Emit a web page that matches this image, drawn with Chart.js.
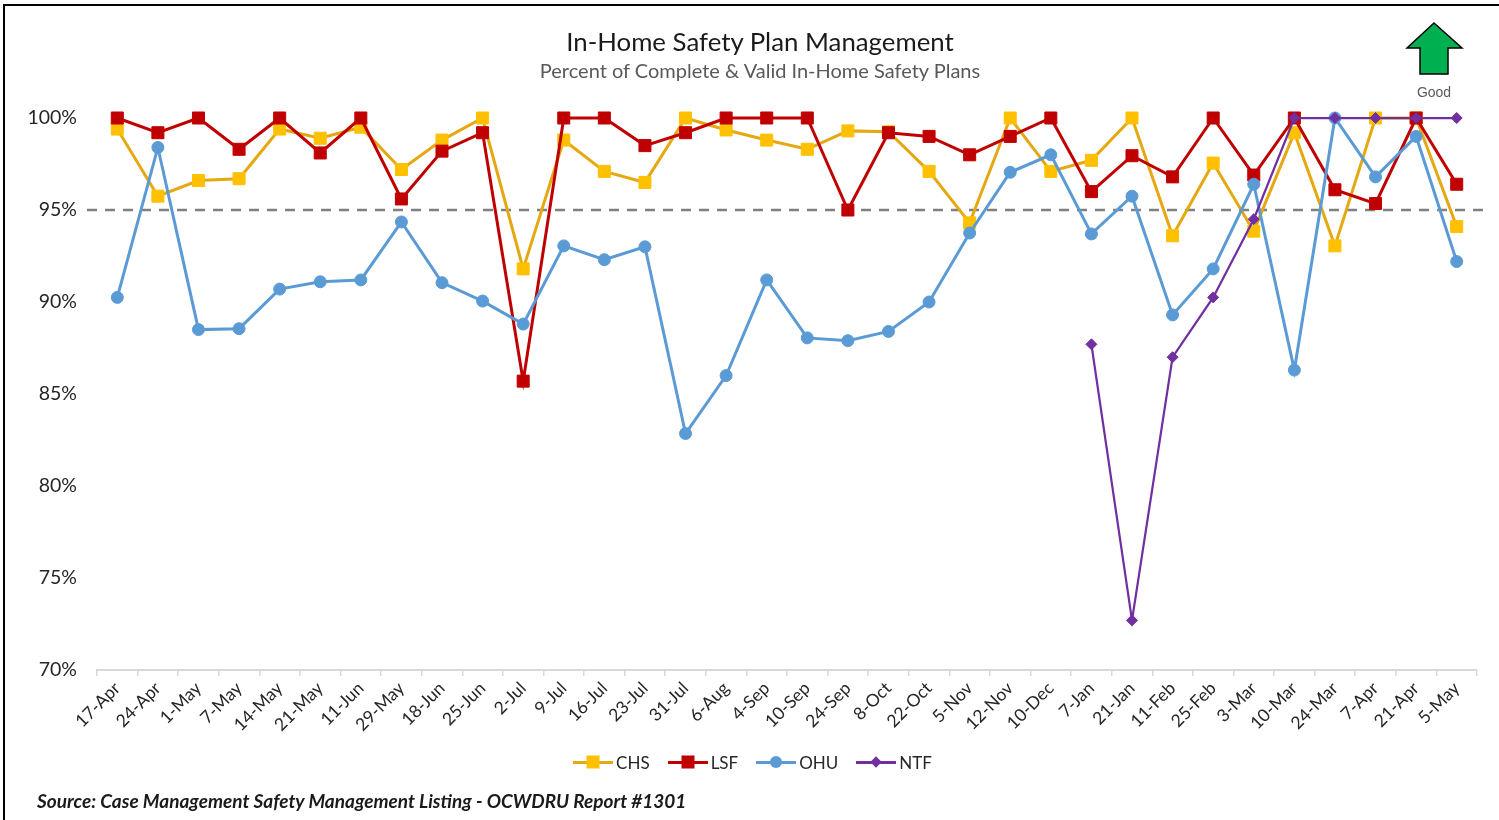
<!DOCTYPE html>
<html>
<head>
<meta charset="utf-8">
<script src="https://cdn.jsdelivr.net/npm/chart.js@4.4.1/dist/chart.umd.min.js"></script>
<style>
  body { margin: 0; background: #fff; }
  #wrap { position: relative; width: 1499px; height: 820px; overflow: hidden; background: #fff; font-family: Lato, "Open Sans", sans-serif; }
  #frame { position: absolute; left: 3px; top: 4px; width: 1520px; height: 900px; border-left: 2.5px solid #000; border-top: 2.5px solid #000; }
  #chart { position: absolute; left: 0; top: 0; }
  .title { position: absolute; left: 0; width: 1520px; text-align: center; }
  #title { top: 26px; font-size: 25.8px; color: #1a1a1a; }
  #subtitle { top: 58px; font-size: 20px; color: #595959; }
  #arrow { position: absolute; left: 0; top: 0; }
  #good { position: absolute; left: 1404px; top: 84px; width: 60px; text-align: center; font-family: "Liberation Sans", Arial, sans-serif; font-size: 14px; color: #595959; }
  #legend { position: absolute; left: 0; width: 1505px; top: 752px; display: flex; justify-content: center; gap: 18px; font-size: 17px; color: #262626; }
  .item { display: flex; align-items: center; height: 20px; }
  .sw { position: relative; width: 40px; height: 20px; margin-right: 3px; }
  .ln { position: absolute; left: 0; top: 8.5px; width: 40px; height: 3px; }
  .mk { position: absolute; left: 50%; top: 50%; transform: translate(-50%, -50%); }
  #source { position: absolute; left: 37px; top: 789px; font-size: 19px; font-style: italic; font-weight: 700; color: #1a1a1a; }
</style>
</head>
<body>
<div id="wrap">
  <div id="frame"></div>
  <canvas id="chart" width="1499" height="820"></canvas>
  <div class="title" id="title">In-Home Safety Plan Management</div>
  <div class="title" id="subtitle">Percent of Complete &amp; Valid In-Home Safety Plans</div>
  <svg id="arrow" width="1499" height="110">
    <polygon points="1434,23 1462,48 1448,48 1448,74 1420,74 1420,48 1407,48" fill="#00B050" stroke="#000" stroke-width="1.5" stroke-linejoin="miter"/>
  </svg>
  <div id="good">Good</div>
  <div id="legend"></div>
  <div id="source">Source: Case Management Safety Management Listing - OCWDRU Report #1301</div>
</div>
<script>
// Data
const categories = ['17-Apr', '24-Apr', '1-May', '7-May', '14-May', '21-May', '11-Jun', '29-May', '18-Jun', '25-Jun',
  '2-Jul', '9-Jul', '16-Jul', '23-Jul', '31-Jul', '6-Aug', '4-Sep', '10-Sep', '24-Sep', '8-Oct',
  '22-Oct', '5-Nov', '12-Nov', '10-Dec', '7-Jan', '21-Jan', '11-Feb', '25-Feb', '3-Mar', '10-Mar',
  '24-Mar', '7-Apr', '21-Apr', '5-May'];

const chsValues = [99.4, 95.75, 96.6, 96.7, 99.4, 98.9, 99.5, 97.2, 98.8, 100,
  91.8, 98.8, 97.1, 96.5, 100, 99.35, 98.8, 98.3, 99.3, 99.25,
  97.1, 94.3, 100, 97.1, 97.7, 100, 93.6, 97.55, 93.85, 99.2,
  93.05, 100, 100, 94.1];

const lsfValues = [100, 99.2, 100, 98.3, 100, 98.1, 100, 95.6, 98.2, 99.2,
  85.7, 100, 100, 98.5, 99.2, 100, 100, 100, 95.0, 99.2,
  99.0, 98.0, 99.0, 100, 96.0, 97.95, 96.8, 100, 96.9, 100,
  96.1, 95.35, 100, 96.4];

const ohuValues = [90.25, 98.4, 88.5, 88.55, 90.7, 91.1, 91.2, 94.35, 91.05, 90.05,
  88.8, 93.05, 92.3, 93.0, 82.85, 86.0, 91.2, 88.05, 87.9, 88.4,
  90.0, 93.75, 97.05, 98.0, 93.7, 95.75, 89.3, 91.8, 96.4, 86.3,
  100, 96.8, 99.0, 92.2];

const ntfValues = [null, null, null, null, null, null, null, null, null, null,
  null, null, null, null, null, null, null, null, null, null,
  null, null, null, null, 87.7, 72.7, 87.0, 90.25, 94.5, 100,
  100, 100, 100, 100];

const yTicks = [70, 75, 80, 85, 90, 95, 100];
const targetValue = 95;

const seriesNames = ['CHS', 'LSF', 'OHU', 'NTF'];
const seriesData = [chsValues, lsfValues, ohuValues, ntfValues];
const lineColors = ['#E6A810', '#C00000', '#5B9BD5', '#7030A0'];
const markerColors = ['#FFC000', '#C00000', '#5B9BD5', '#7030A0'];
const markerStyles = ['rect', 'rect', 'circle', 'rectRot'];
const markerSizes = [8.5, 8.5, 6, 5.5];
const lineWidths = [3, 3, 3, 2.25];

const FONT = 'Lato, "Open Sans", sans-serif';

// dashed target line, drawn under the series
const targetLine = {
  id: 'targetLine',
  beforeDatasetsDraw(chart) {
    const { ctx, chartArea, scales } = chart;
    const y = scales.y.getPixelForValue(targetValue);
    ctx.save();
    ctx.strokeStyle = '#808080';
    ctx.lineWidth = 2.5;
    ctx.setLineDash([10, 8]);
    ctx.beginPath();
    ctx.moveTo(chartArea.left - 10, y);
    ctx.lineTo(chartArea.right + 8, y);
    ctx.stroke();
    ctx.restore();
  }
};

function createChart() {
  const ctx = document.getElementById('chart').getContext('2d');
  new Chart(ctx, {
    type: 'line',
    data: {
      labels: categories,
      datasets: seriesNames.map((name, i) => ({
        label: name,
        data: seriesData[i],
        borderColor: lineColors[i],
        borderWidth: lineWidths[i],
        backgroundColor: markerColors[i],
        pointBackgroundColor: markerColors[i],
        pointBorderColor: markerColors[i],
        pointBorderWidth: 1,
        pointStyle: markerStyles[i],
        pointRadius: markerSizes[i],
        pointHoverRadius: markerSizes[i],
        tension: 0,
        spanGaps: false,
        clip: false,
        order: seriesNames.length - i
      }))
    },
    options: {
      responsive: false,
      animation: false,
      layout: { padding: { top: 118, bottom: 80, left: 10, right: 22 } },
      plugins: {
        legend: { display: false },
        title: { display: false },
        tooltip: { enabled: false }
      },
      scales: {
        x: {
          offset: true,
          grid: {
            offset: true,
            drawOnChartArea: false,
            drawTicks: true,
            tickLength: 6,
            color: '#d9d9d9',
            lineWidth: 1.5
          },
          border: { color: '#d9d9d9', width: 2 },
          ticks: {
            autoSkip: false,
            minRotation: 45,
            maxRotation: 45,
            padding: 2,
            color: '#262626',
            font: { family: FONT, size: 17.5 }
          },
          afterFit(s) { s.height = 70; }
        },
        y: {
          min: 70,
          max: 100,
          grid: { display: false, drawTicks: false },
          border: { display: false },
          afterBuildTicks(s) { s.ticks = yTicks.map(v => ({ value: v })); },
          ticks: {
            padding: 20,
            color: '#262626',
            font: { family: FONT, size: 19.5 },
            callback: v => v + '%'
          },
          afterFit(s) { s.width = 87; }
        }
      }
    },
    plugins: [targetLine]
  });
}

function buildLegend() {
  const box = document.getElementById('legend');
  seriesNames.forEach((name, i) => {
    const item = document.createElement('div');
    item.className = 'item';
    const sw = document.createElement('span');
    sw.className = 'sw';
    const ln = document.createElement('i');
    ln.className = 'ln';
    ln.style.background = lineColors[i];
    const mk = document.createElement('i');
    mk.className = 'mk';
    mk.style.background = markerColors[i];
    if (markerStyles[i] === 'rect') {
      mk.style.width = '13px'; mk.style.height = '13px';
    } else if (markerStyles[i] === 'circle') {
      mk.style.width = '12px'; mk.style.height = '12px'; mk.style.borderRadius = '50%';
    } else {
      mk.style.width = '8px'; mk.style.height = '8px';
      mk.style.transform = 'translate(-50%, -50%) rotate(45deg)';
    }
    sw.appendChild(ln);
    sw.appendChild(mk);
    const lab = document.createElement('span');
    lab.textContent = name;
    item.appendChild(sw);
    item.appendChild(lab);
    box.appendChild(item);
  });
}

window.addEventListener('DOMContentLoaded', () => {
  buildLegend();
  createChart();
});
</script>
</body>
</html>
